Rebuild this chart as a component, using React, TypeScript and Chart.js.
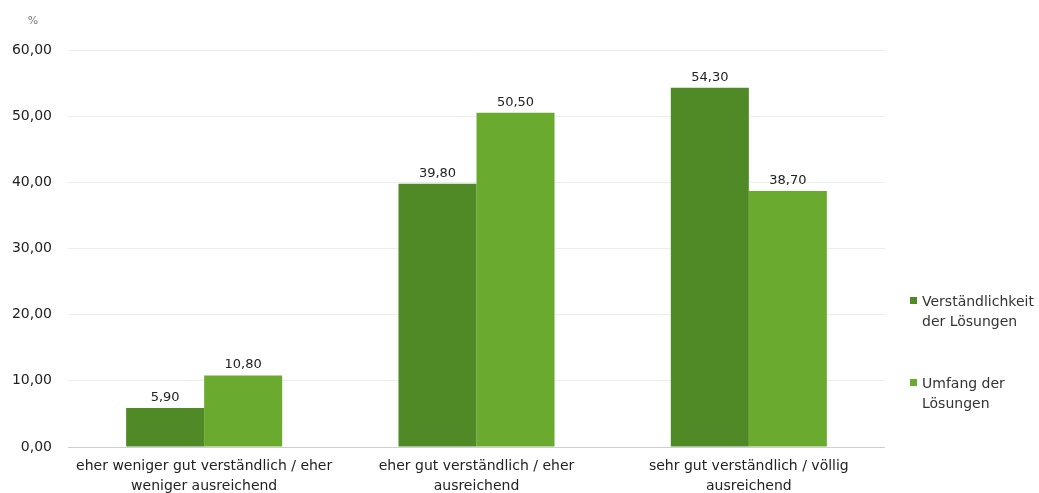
import React, { useEffect, useRef } from "react";
import { Chart, registerables } from "chart.js";

Chart.register(...registerables);

const categories: string[][] = [
  ["eher weniger gut verständlich / eher", "weniger ausreichend"],
  ["eher gut verständlich / eher", "ausreichend"],
  ["sehr gut verständlich / völlig", "ausreichend"],
];
const seriesNames: string[][] = [
  ["Verständlichkeit", "der Lösungen"],
  ["Umfang der", "Lösungen"],
];
const verstaendlichkeit: number[] = [5.9, 39.8, 54.3];
const umfang: number[] = [10.8, 50.5, 38.7];
const colors: string[] = ["#4f8a27", "#6aab2f"];
const yMax = 60;
const yStep = 10;

const fmt = (v: number) => v.toFixed(2).replace(".", ",");
const FONT = "'DejaVu Sans', sans-serif";

const extrasPlugin = {
  id: "extras",
  afterDatasetsDraw(chart: any) {
    const ctx = chart.ctx;
    ctx.save();
    ctx.font = `13px ${FONT}`;
    ctx.fillStyle = "#222";
    ctx.textAlign = "center";
    ctx.textBaseline = "bottom";
    chart.data.datasets.forEach((ds: any, i: number) => {
      const meta = chart.getDatasetMeta(i);
      meta.data.forEach((el: any, j: number) => {
        ctx.fillText(fmt(ds.data[j]), el.x, el.y - 4);
      });
    });
    // unit
    ctx.font = `11px ${FONT}`;
    ctx.fillStyle = "#777";
    ctx.textAlign = "center";
    ctx.textBaseline = "middle";
    ctx.fillText("%", 33, 21);
    // legend
    const legendTop = [302, 384];
    ctx.font = `14px ${FONT}`;
    ctx.textAlign = "left";
    seriesNames.forEach((lines, i) => {
      ctx.fillStyle = colors[i];
      ctx.fillRect(910, legendTop[i] - 5, 7, 7);
      ctx.fillStyle = "#333";
      lines.forEach((t, k) => {
        ctx.fillText(t, 922, legendTop[i] + k * 20);
      });
    });
    ctx.restore();
  },
};

export default function App() {
  const ref = useRef<HTMLCanvasElement | null>(null);
  useEffect(() => {
    if (!ref.current) return;
    const chart = new Chart(ref.current, {
      type: "bar",
      data: {
        labels: categories,
        datasets: [
          {
            label: seriesNames[0].join(" "),
            data: verstaendlichkeit,
            backgroundColor: colors[0],
            categoryPercentage: 0.573,
            barPercentage: 1,
          },
          {
            label: seriesNames[1].join(" "),
            data: umfang,
            backgroundColor: colors[1],
            categoryPercentage: 0.573,
            barPercentage: 1,
          },
        ],
      },
      options: {
        animation: false,
        responsive: true,
        maintainAspectRatio: false,
        layout: { padding: { top: 50, right: 154, left: 0, bottom: 0 } },
        plugins: {
          legend: { display: false },
          tooltip: { enabled: false },
        },
        scales: {
          x: {
            grid: { display: false },
            border: { display: false },
            ticks: {
              color: "#222",
              font: { family: FONT, size: 14, lineHeight: 1.45 },
              padding: 1,
              maxRotation: 0,
              autoSkip: false,
            },
            afterFit(scale: any) {
              scale.height = 46;
            },
          },
          y: {
            min: 0,
            max: yMax,
            border: { display: false },
            grid: {
              drawTicks: false,
              color: (c: any) => (c.index === 0 ? "#cfcfcf" : "#ededed"),
            },
            ticks: {
              stepSize: yStep,
              color: "#222",
              font: { family: FONT, size: 14 },
              padding: 16,
              callback: (v: any) => fmt(Number(v)),
            },
            afterFit(scale: any) {
              scale.width = 68;
            },
          },
        },
      },
      plugins: [extrasPlugin],
    });
    return () => chart.destroy();
  }, []);
  return (
    <div style={{ position: "absolute", left: 0, top: 0, width: 1039, height: 493, background: "#fff" }}>
      <canvas ref={ref} />
    </div>
  );
}
